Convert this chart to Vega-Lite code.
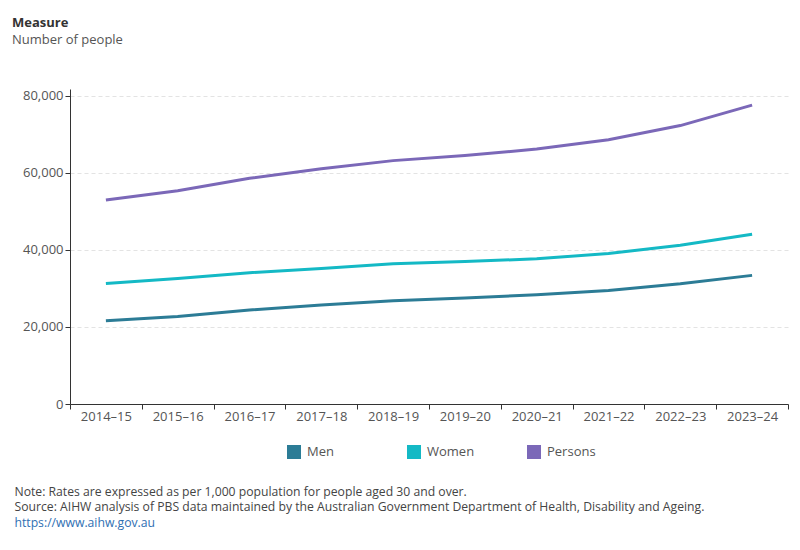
{
  "$schema": "https://vega.github.io/schema/vega-lite/v6.json",
  "width": 718,
  "height": 315,
  "autosize": {"type": "none"},
  "padding": {"left": 70, "top": 89, "right": 12, "bottom": 146},
  "background": "white",
  "title": {
    "text": "Measure",
    "subtitle": "Number of people",
    "anchor": "start",
    "frame": "group",
    "orient": "top",
    "dx": -58,
    "offset": 42,
    "font": "Open Sans",
    "fontSize": 13,
    "fontWeight": "bold",
    "color": "#333333",
    "subtitleFont": "Open Sans",
    "subtitleFontSize": 13,
    "subtitleColor": "#555555",
    "subtitlePadding": 4
  },
  "config": {"view": {"stroke": null}, "font": "Open Sans"},
  "data": {
    "values": [
      {"year": "2014–15", "measure": "Men", "value": 21600},
      {"year": "2015–16", "measure": "Men", "value": 22700},
      {"year": "2016–17", "measure": "Men", "value": 24400},
      {"year": "2017–18", "measure": "Men", "value": 25700},
      {"year": "2018–19", "measure": "Men", "value": 26800},
      {"year": "2019–20", "measure": "Men", "value": 27500},
      {"year": "2020–21", "measure": "Men", "value": 28400},
      {"year": "2021–22", "measure": "Men", "value": 29500},
      {"year": "2022–23", "measure": "Men", "value": 31200},
      {"year": "2023–24", "measure": "Men", "value": 33400},
      {"year": "2014–15", "measure": "Women", "value": 31300},
      {"year": "2015–16", "measure": "Women", "value": 32600},
      {"year": "2016–17", "measure": "Women", "value": 34100},
      {"year": "2017–18", "measure": "Women", "value": 35200},
      {"year": "2018–19", "measure": "Women", "value": 36400},
      {"year": "2019–20", "measure": "Women", "value": 37000},
      {"year": "2020–21", "measure": "Women", "value": 37700},
      {"year": "2021–22", "measure": "Women", "value": 39100},
      {"year": "2022–23", "measure": "Women", "value": 41200},
      {"year": "2023–24", "measure": "Women", "value": 44100},
      {"year": "2014–15", "measure": "Persons", "value": 53000},
      {"year": "2015–16", "measure": "Persons", "value": 55400},
      {"year": "2016–17", "measure": "Persons", "value": 58600},
      {"year": "2017–18", "measure": "Persons", "value": 61100},
      {"year": "2018–19", "measure": "Persons", "value": 63200},
      {"year": "2019–20", "measure": "Persons", "value": 64500},
      {"year": "2020–21", "measure": "Persons", "value": 66200},
      {"year": "2021–22", "measure": "Persons", "value": 68600},
      {"year": "2022–23", "measure": "Persons", "value": 72300},
      {"year": "2023–24", "measure": "Persons", "value": 77600}
    ]
  },
  "mark": {"type": "line", "strokeWidth": 3},
  "encoding": {
    "x": {
      "field": "year",
      "type": "ordinal",
      "sort": null,
      "bandPosition": 0.5,
      "scale": {"type": "band", "paddingInner": 0, "paddingOuter": 0},
      "axis": {
        "title": ["Note: Rates are expressed as per 1,000 population for people aged 30 and over.", "Source: AIHW analysis of PBS data maintained by the Australian Government Department of Health, Disability and Ageing."],
        "titleX": -56,
        "titleY": 81,
        "titleAlign": "left",
        "titleAnchor": "start",
        "titleBaseline": "top",
        "titleFont": "Open Sans",
        "titleFontWeight": "normal",
        "titleFontSize": 12.2,
        "titleColor": "#444444",
        "titleLineHeight": 15.5,
        "labelAngle": 0,
        "tickBand": "extent",
        "domainColor": "#333333",
        "tickColor": "#333333",
        "tickSize": 5,
        "labelFont": "Open Sans",
        "labelFontSize": 13,
        "labelColor": "#555555",
        "labelPadding": 1
      }
    },
    "y": {
      "field": "value",
      "type": "quantitative",
      "scale": {"domain": [0, 81800], "nice": false, "zero": true},
      "axis": {
        "values": [0, 20000, 40000, 60000, 80000],
        "format": ",.0f",
        "title": "https://www.aihw.gov.au",
        "titleAngle": 0,
        "titleX": -56,
        "titleY": 433,
        "titleAlign": "left",
        "titleBaseline": "middle",
        "titleColor": "#2f6fb3",
        "titleFont": "Open Sans",
        "titleFontWeight": "normal",
        "titleFontSize": 12.2,
        "grid": true,
        "gridDash": [4, 3],
        "gridColor": "#e3e3e3",
        "domainColor": "#333333",
        "tickColor": "#333333",
        "tickSize": 5,
        "labelPadding": 2,
        "labelFont": "Open Sans",
        "labelFontSize": 13,
        "labelColor": "#555555"
      }
    },
    "color": {
      "field": "measure",
      "type": "nominal",
      "sort": ["Men", "Women", "Persons"],
      "scale": {"domain": ["Men", "Women", "Persons"], "range": ["#2c7c96", "#14b9c5", "#7b68b8"]},
      "legend": {
        "orient": "none",
        "legendX": 217,
        "legendY": 356,
        "direction": "horizontal",
        "title": null,
        "symbolType": "square",
        "symbolSize": 196,
        "labelFont": "Open Sans",
        "labelFontSize": 13,
        "labelColor": "#555555",
        "labelOffset": 6,
        "columnPadding": 51,
        "gridAlign": "all",
        "encode": {
          "symbols": {
            "update": {
              "fill": {"scale": "color", "field": "value"},
              "fillOpacity": {"value": 1},
              "strokeWidth": {"value": 0},
              "shape": {"value": "square"}
            }
          }
        }
      }
    }
  }
}
